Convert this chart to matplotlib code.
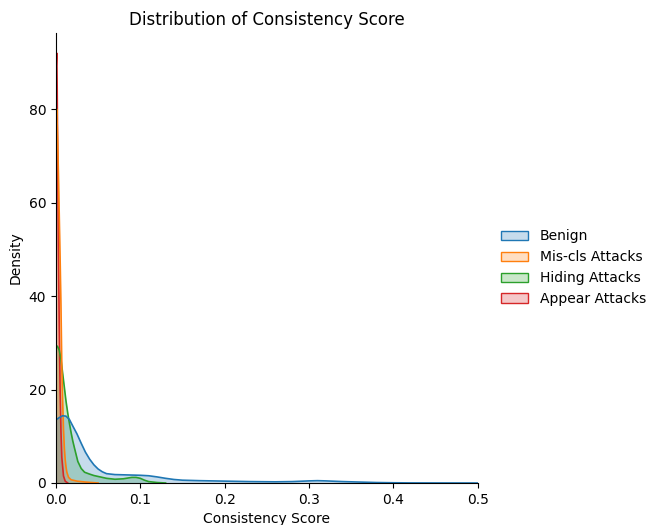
import numpy as np
import matplotlib.pyplot as plt
from matplotlib.patches import Patch
from matplotlib.colors import to_rgb

# densities (consistency score -> density)
labels = ['Benign', 'Mis-cls Attacks', 'Hiding Attacks', 'Appear Attacks']
colors = ['#1f77b4', '#ff7f0e', '#2ca02c', '#d62728']

benign_x = [0, 0.004, 0.008, 0.012, 0.016, 0.02, 0.025, 0.03, 0.035, 0.04, 0.045, 0.05,
            0.055, 0.06, 0.07, 0.08, 0.09, 0.1, 0.11, 0.12, 0.13, 0.14, 0.15, 0.17, 0.2,
            0.23, 0.26, 0.28, 0.3, 0.31, 0.32, 0.34, 0.36, 0.38, 0.4, 0.42, 0.45, 0.5]
benign_y = [13.5, 14.0, 14.4, 14.3, 13.6, 12.2, 10.5, 8.5, 6.6, 5.1, 3.9, 3.0,
            2.4, 2.0, 1.8, 1.75, 1.7, 1.65, 1.55, 1.3, 1.0, 0.75, 0.6, 0.5, 0.4,
            0.3, 0.25, 0.3, 0.45, 0.5, 0.45, 0.3, 0.2, 0.1, 0.05, 0.02, 0.01, 0.0]

miscls_x = [0, 0.001, 0.002, 0.003, 0.004, 0.005, 0.006, 0.007, 0.008, 0.009, 0.010,
            0.011, 0.012, 0.013, 0.015, 0.018, 0.025, 0.035, 0.05]
miscls_y = [77, 80, 74, 66, 57, 48, 38, 25, 17.5, 11.5, 7.5,
            5.0, 3.4, 2.3, 1.2, 0.7, 0.4, 0.2, 0]

hiding_x = [0, 0.002, 0.004, 0.006, 0.008, 0.010, 0.012, 0.014, 0.016, 0.018, 0.020,
            0.022, 0.026, 0.030, 0.034, 0.04, 0.045, 0.05, 0.06, 0.07, 0.08,
            0.09, 0.095, 0.1, 0.105, 0.11, 0.12, 0.13]
hiding_y = [29.5, 29.2, 28.4, 26.5, 23.5, 20.5, 17.5, 15, 12.8, 10.8, 9,
            7.5, 4.6, 3.1, 2.3, 1.9, 1.6, 1.4, 1.0, 0.8, 0.9,
            1.2, 1.2, 1.0, 0.6, 0.3, 0.1, 0]

appear_x = [0, 0.001, 0.0015, 0.002, 0.003, 0.004, 0.005, 0.006, 0.007, 0.009, 0.011, 0.014]
appear_y = [88, 92, 85, 72, 50, 33, 20, 11, 5.5, 1.5, 0.4, 0]

series = [(benign_x, benign_y), (miscls_x, miscls_y), (hiding_x, hiding_y), (appear_x, appear_y)]

fig = plt.figure(figsize=(6.5, 5.25), dpi=100)
ax = fig.add_axes([0.086, 0.08, 0.649, 0.857])

# seaborn draws the last hue level first
for i in reversed(range(len(series))):
    xs, ys = series[i]
    ax.fill_between(xs, ys, 0, color=colors[i], alpha=0.25, linewidth=0)
    ax.plot(xs, ys, color=colors[i], lw=1.2)

ax.set_xlim(0, 0.5)
ax.set_ylim(0, 96.3)
ax.set_xticks([0, 0.1, 0.2, 0.3, 0.4, 0.5])
ax.set_yticks([0, 20, 40, 60, 80])
ax.spines['top'].set_visible(False)
ax.spines['right'].set_visible(False)
ax.set_xlabel('Consistency Score')
ax.set_ylabel('Density')
ax.set_title('Distribution of Consistency Score', fontsize=12)

handles = [Patch(facecolor=(*to_rgb(c), 0.25), edgecolor=c, label=l) for c, l in zip(colors, labels)]
fig.legend(handles=handles, loc='center left', bbox_to_anchor=(0.751, 0.49), frameon=False)

fig.savefig('out.png', dpi=100)
